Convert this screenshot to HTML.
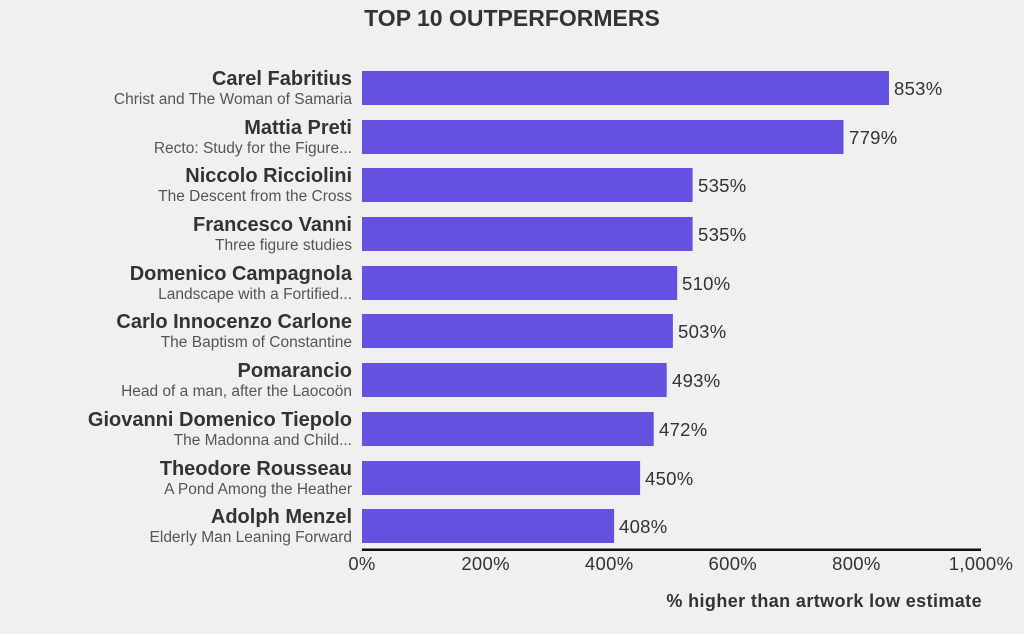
<!DOCTYPE html>
<html><head><meta charset="utf-8"><style>
html,body{margin:0;padding:0;background:#f0f0f0;}
svg{display:block;font-family:"Liberation Sans",sans-serif;}
</style></head><body>
<svg width="1024" height="634" viewBox="0 0 1024 634" xmlns="http://www.w3.org/2000/svg">
<rect width="1024" height="634" fill="#f0f0f0"/>
<text x="512" y="26" text-anchor="middle" font-size="23" font-weight="bold" fill="#333">TOP 10 OUTPERFORMERS</text>
<g fill="#6351e0">
<rect x="362" y="71" width="527" height="34"/>
<rect x="362" y="120" width="481.5" height="34"/>
<rect x="362" y="168" width="330.6" height="34"/>
<rect x="362" y="217" width="330.6" height="34"/>
<rect x="362" y="266" width="315.2" height="34"/>
<rect x="362" y="314" width="310.9" height="34"/>
<rect x="362" y="363" width="304.7" height="34"/>
<rect x="362" y="412" width="291.7" height="34"/>
<rect x="362" y="461" width="278.1" height="34"/>
<rect x="362" y="509" width="252.1" height="34"/>
</g>
<g font-size="18.5" fill="#333" letter-spacing="0.3">
<text x="894" y="95">853%</text>
<text x="849" y="144">779%</text>
<text x="698" y="192">535%</text>
<text x="698" y="241">535%</text>
<text x="682" y="290">510%</text>
<text x="678" y="338">503%</text>
<text x="672" y="387">493%</text>
<text x="659" y="436">472%</text>
<text x="645" y="485">450%</text>
<text x="619" y="533">408%</text>
</g>
<g text-anchor="end" font-size="20" font-weight="bold" fill="#333">
<text x="352" y="85">Carel Fabritius</text>
<text x="352" y="134">Mattia Preti</text>
<text x="352" y="182">Niccolo Ricciolini</text>
<text x="352" y="231">Francesco Vanni</text>
<text x="352" y="280">Domenico Campagnola</text>
<text x="352" y="328">Carlo Innocenzo Carlone</text>
<text x="352" y="377">Pomarancio</text>
<text x="352" y="426">Giovanni Domenico Tiepolo</text>
<text x="352" y="475">Theodore Rousseau</text>
<text x="352" y="523">Adolph Menzel</text>
</g>
<g text-anchor="end" font-size="15.5" fill="#555">
<text x="352" y="104">Christ and The Woman of Samaria</text>
<text x="352" y="153">Recto: Study for the Figure...</text>
<text x="352" y="201">The Descent from the Cross</text>
<text x="352" y="250">Three figure studies</text>
<text x="352" y="299">Landscape with a Fortified...</text>
<text x="352" y="347">The Baptism of Constantine</text>
<text x="352" y="396">Head of a man, after the Laocoön</text>
<text x="352" y="445">The Madonna and Child...</text>
<text x="352" y="494">A Pond Among the Heather</text>
<text x="352" y="542">Elderly Man Leaning Forward</text>
</g>
<rect x="362" y="548.5" width="619" height="2.5" fill="#111"/>
<g text-anchor="middle" font-size="18.5" fill="#333" letter-spacing="0.3">
<text x="362" y="570">0%</text>
<text x="485.6" y="570">200%</text>
<text x="609.2" y="570">400%</text>
<text x="732.8" y="570">600%</text>
<text x="856.4" y="570">800%</text>
<text x="981" y="570">1,000%</text>
</g>
<text x="982" y="607" text-anchor="end" font-size="18" font-weight="bold" fill="#333" letter-spacing="0.4">% higher than artwork low estimate</text>
</svg>
</body></html>
